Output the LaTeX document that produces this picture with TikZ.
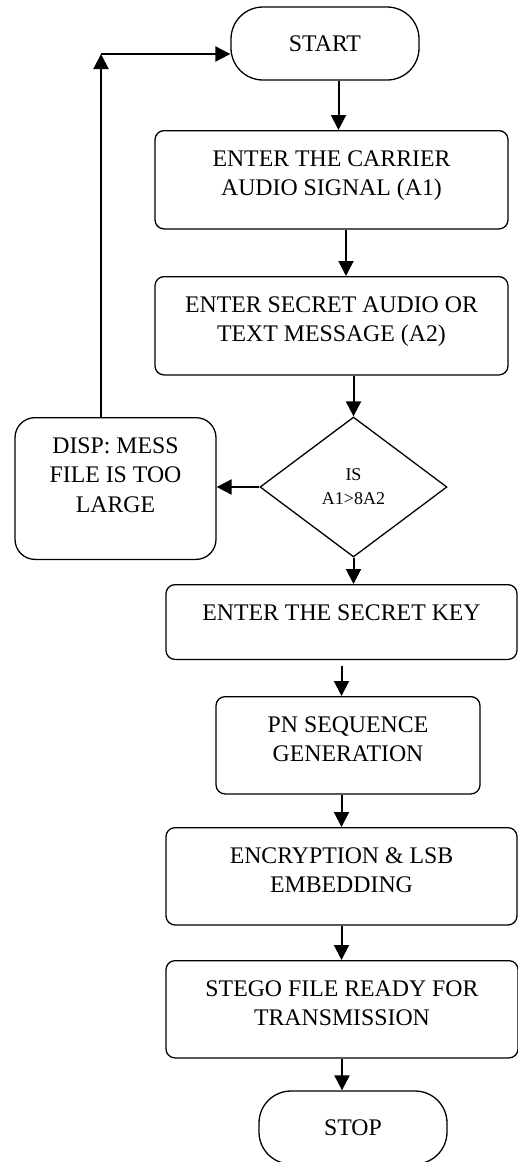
\documentclass[tikz,border=0pt]{standalone}
\usepackage{fontspec}
\setmainfont{Liberation Serif}
\usetikzlibrary{shapes.geometric,arrows.meta}

\begin{document}
\begin{tikzpicture}
      [x=1pt,y=-1pt
    % styles of the blocks and arrows
      ,box/.style={draw,line width=1.3pt,rounded corners=9pt,align=center,anchor=north,inner xsep=4pt,inner ysep=20pt,font=\fontsize{23.8}{29.5}\selectfont}
      ,term/.style={draw,line width=1.3pt,rounded corners=32pt,minimum width=188pt,minimum height=73pt,font=\fontsize{23.8}{29.5}\selectfont}
      ,decision/.style={draw,diamond,line width=1.3pt,inner sep=0pt,minimum width=187pt,minimum height=140pt,align=center,font=\fontsize{18}{24}\selectfont}
      ,arr/.style={line width=2pt,-{Triangle[length=15pt,width=15pt]}}
      ]
    % page frame
        \useasboundingbox (0,0) rectangle (518,1162);

        \node[term] (start) at (325,43.5) {START};
        \node[box,minimum width=353pt,text depth=13pt] (carrier) at (331.5,130) {ENTER THE CARRIER\\AUDIO SIGNAL (A1)};
        \node[box,minimum width=353pt,text depth=13pt] (secret) at (331.5,276) {ENTER SECRET AUDIO OR\\TEXT MESSAGE (A2)};
        \node[decision] (cmp) at (353.5,487) {IS\\A1>8A2};
        \node[box,rounded corners=20pt,minimum width=201pt,text depth=27pt] (disp) at (115.5,417) {DISP: MESS\\FILE IS TOO\\LARGE};
        \node[box,minimum width=351pt,text depth=19pt] (key) at (341.5,584) {ENTER THE SECRET KEY};
        \node[box,minimum width=264pt,text depth=12pt] (pn) at (348,696) {PN SEQUENCE\\GENERATION};
        \node[box,minimum width=351pt,text depth=12pt] (embed) at (341.5,827) {ENCRYPTION \& LSB\\EMBEDDING};
        \node[box,minimum width=352pt,text depth=12pt] (stego) at (342,960) {STEGO FILE READY FOR\\TRANSMISSION};
        \node[term] (stop) at (353,1127.5) {STOP};

        \draw[arr] ([xshift=13.5pt]start.south) -- ([xshift=7pt]carrier.north);
        \draw[arr] ([xshift=14.5pt]carrier.south) -- ([xshift=14.5pt]secret.north);
        \draw[arr] (secret.south -| cmp.north) -- (cmp.north);
        \draw[arr] (cmp.west) -- (cmp.west -| disp.east);
    % return to the start
        \coordinate (back) at (101,54);
        \draw[arr] (disp.north -| back) -- (back);
        \draw[arr] (back) -- (back -| start.west);
        \draw[arr] (cmp.south) -- (cmp.south |- key.north);
        \draw[arr,shorten <=6pt] (key.south) -- (key.south |- pn.north);
        \draw[arr] (pn.south -| embed.north) -- (embed.north);
        \draw[arr] (embed.south) -- (embed.south |- stego.north);
        \draw[arr] (stego.south) -- (stego.south |- stop.north);
\end{tikzpicture}
\end{document}
